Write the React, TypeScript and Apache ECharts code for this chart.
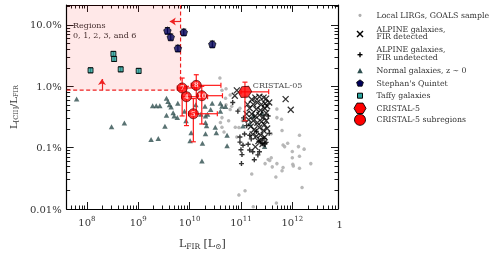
import React, { useEffect, useRef } from "react";
import * as echarts from "echarts";

// Axis ranges in log10 units (x: L_FIR in Lsun, y: ratio in percent)
const X_MIN = 7.606;
const X_MAX = 12.89;
const Y_MIN = -2;
const Y_MAX = 1.326;

const xMajorTicks = [8, 9, 10, 11, 12];
const xTickExponents = ["8", "9", "10", "11", "12"];
const yMajorTicks = [-2, -1, 0, 1];
const yTickLabels = ["0.01%", "0.1%", "1.0%", "10.0%"];

// [log L_FIR, log ratio(%)]
const goalsSample: [number, number][] = [
  [10.59, 0.135], [10.71, -0.038], [10.79, -0.142], [10.82, -0.326], [10.63, -0.063],
  [10.7, -0.195], [10.71, -0.299], [10.79, -0.378], [10.63, -0.51], [10.76, -0.562],
  [10.89, -0.668], [10.63, -0.668], [10.67, -0.746], [10.92, -0.825], [10.6, -0.589],
  [11.7, -0.369], [11.7, -0.51], [11.79, -0.535], [11.8, -0.72], [11.59, -0.772],
  [12.14, -0.798], [11.82, -0.956], [11.91, -0.929], [11.85, -0.983], [12.12, -0.983],
  [12.23, -1.024], [12.0, -1.061], [12.14, -1.14], [11.59, -1.165], [11.53, -1.192],
  [11.47, -1.26], [11.7, -1.26], [11.61, -1.313], [11.82, -1.323], [12.01, -1.271],
  [11.8, -1.376], [12.14, -1.334], [12.36, -1.26], [11.68, -1.48], [12.19, -1.649],
  [11.69, -1.901], [11.21, -1.428], [11.08, -1.701], [10.96, -1.77], [12.0, -1.165],
  [11.56, -1.21], [11.24, -1.964], [10.98, -0.357], [11.03, -0.562], [10.96, -0.672],
  [11.09, -0.169], [12.02, -1.298],
];

const alpineDetected: [number, number][] = [
  [10.92, -0.066], [10.88, -0.153], [11.87, -0.208], [11.97, -0.381],
  [11.21, -0.216], [11.28, -0.184], [11.36, -0.169], [11.44, -0.184], [11.49, -0.2],
  [11.24, -0.294], [11.32, -0.263], [11.4, -0.294], [11.47, -0.279], [11.17, -0.357],
  [11.3, -0.373], [11.38, -0.389], [11.46, -0.357], [11.51, -0.326], [11.21, -0.452],
  [11.28, -0.483], [11.36, -0.468], [11.44, -0.499], [11.49, -0.436], [11.24, -0.562],
  [11.32, -0.594], [11.4, -0.578], [11.46, -0.625], [11.19, -0.657], [11.26, -0.704],
  [11.36, -0.672], [11.44, -0.72], [11.51, -0.688], [11.23, -0.783], [11.3, -0.814],
  [11.38, -0.798], [11.46, -0.83], [11.34, -0.893], [11.42, -0.94], [11.28, -0.987],
  [11.49, -0.562], [11.15, -0.546], [11.13, -0.294], [11.55, -0.263], [11.11, -0.452],
];

const alpineUndetected: [number, number][] = [
  [10.94, -0.405], [10.84, -0.263], [10.98, -0.825], [11.07, -0.778], [10.98, -0.909],
  [11.04, -0.961], [11.14, -0.945], [11.17, -1.039], [11.23, -1.066], [11.36, -1.066],
  [11.33, -1.118], [11.26, -1.197], [11.01, -1.26], [11.42, -0.935], [11.47, -0.935],
  [11.39, -0.882], [11.2, -0.857], [11.0, -1.035], [11.45, -0.85], [11.11, -0.641],
  [11.05, -0.515], [11.3, -0.735], [11.55, -0.767], [11.53, -0.483], [11.17, -0.798],
  [11.02, -1.113], [11.49, -0.913], [11.35, -0.904],
];

const normalGalaxies: [number, number][] = [
  [7.8, -0.205], [8.48, -0.657], [8.73, -0.598], [9.25, -0.866], [9.39, -0.85],
  [9.28, -0.315], [9.35, -0.315], [9.42, -0.315], [9.55, -0.195], [9.58, -0.247],
  [9.64, -0.337], [9.77, -0.274], [9.55, -0.472], [9.68, -0.431], [9.7, -0.483],
  [9.76, -0.51], [9.52, -0.652], [10.03, -0.756], [10.01, -0.888], [10.25, -0.929],
  [10.24, -1.219], [10.33, -0.641], [10.3, -0.326], [10.35, -0.457], [10.12, -0.299],
  [10.52, -0.756], [10.73, -0.798], [10.73, -0.967], [10.41, -0.378], [10.44, -0.274],
  [10.6, -0.405], [10.63, -0.326], [10.31, -0.483], [11.46, -0.983], [11.07, -0.542],
  [11.04, -0.646], [11.41, -0.436], [11.17, -0.609], [11.24, -0.483], [9.93, -0.562],
  [10.31, -0.589], [10.22, -0.457], [10.6, -0.274], [10.7, -0.33], [10.5, -0.668],
  [10.31, -0.772], [9.61, -0.299], [9.9, -0.405],
];

// [logL, logR, yErrLow, yErrHigh]
const stephansQuintet: [number, number, number, number][] = [
  [9.568, 0.907, 0.05, 0.05], [9.633, 0.803, 0.05, 0.05], [9.887, 0.882, 0.05, 0.05],
  [9.772, 0.619, 0.05, 0.05], [10.442, 0.687, 0.05, 0.05],
];
const taffyGalaxies: [number, number, number, number][] = [
  [8.071, 0.261, 0.04, 0.04], [8.516, 0.529, 0.04, 0.04], [8.53, 0.446, 0.04, 0.04],
  [8.658, 0.277, 0.04, 0.04], [9.008, 0.252, 0.04, 0.04],
];

// subregions: label, logL, logR, xlo, xhi, ylo, yhi
const subregionLabels = ["7", "8", "4", "10", "5"];
const subregionLogL = [9.855, 10.13, 9.939, 10.237, 10.073];
const subregionLogR = [-0.027, 0.016, -0.169, -0.153, -0.447];
const subregionXLo = [9.76, 10.03, 9.85, 10.15, 9.98];
const subregionXHi = [10.1, 10.61, 10.35, 10.64, 10.54];
const subregionYLo = [-0.483, -0.45, -0.64, -0.614, -0.904];
const subregionYHi = [0.135, 0.189, 0.0, 0.0, -0.2];

// CRISTAL-5 total: logL, logR, xlo, xhi, ylo, yhi
const cristal5 = [11.078, -0.09, 11.0, 11.54, -0.562, 0.068];

// Regions 0,1,2,3,6 limits
const regionsLimitLogL = 9.824;
const regionsLimitLogR = -0.063;
const arrowLeft = { y: 1.055, from: 9.824, to: 9.614 };
const arrowUp = { x: 8.294, from: -0.063, to: 0.12 };

const FONT = "DejaVu Serif";

function minorTicks(lo: number, hi: number): number[] {
  const out: number[] = [];
  for (let d = Math.floor(lo) - 1; d <= Math.ceil(hi); d++) {
    for (let k = 2; k <= 9; k++) {
      const v = d + Math.log10(k);
      if (v > lo && v < hi) out.push(v);
    }
  }
  return out;
}

const PENTAGON = "path://M0,-1L0.951,-0.309L0.588,0.809L-0.588,0.809L-0.951,-0.309Z";
const HEXAGON = "path://M0,-1L0.866,-0.5L0.866,0.5L0,1L-0.866,0.5L-0.866,-0.5Z";
const XMARK = "path://M-1,-1L1,1M1,-1L-1,1";
const PLUS = "path://M-1,0L1,0M0,-1L0,1";

function errorSeries(
  data: number[][],
  color: string,
  z: number,
  width = 1.2
) {
  return {
    type: "custom",
    z,
    silent: true,
    encode: { x: [0, 2, 3], y: [1, 4, 5] },
    data,
    renderItem: (_p: any, api: any) => {
      const x = api.value(0), y = api.value(1);
      const xlo = api.value(2), xhi = api.value(3);
      const ylo = api.value(4), yhi = api.value(5);
      const style = { stroke: color, lineWidth: width };
      const cap = 2.5;
      const children: any[] = [];
      if (xlo !== xhi) {
        const l = api.coord([xlo, y]);
        const r = api.coord([xhi, y]);
        children.push({ type: "line", shape: { x1: l[0], y1: l[1], x2: r[0], y2: r[1] }, style });
        children.push({ type: "line", shape: { x1: l[0], y1: l[1] - cap, x2: l[0], y2: l[1] + cap }, style });
        children.push({ type: "line", shape: { x1: r[0], y1: r[1] - cap, x2: r[0], y2: r[1] + cap }, style });
      }
      if (ylo !== yhi) {
        const b = api.coord([x, ylo]);
        const t = api.coord([x, yhi]);
        children.push({ type: "line", shape: { x1: b[0], y1: b[1], x2: t[0], y2: t[1] }, style });
        children.push({ type: "line", shape: { x1: b[0] - cap, y1: b[1], x2: b[0] + cap, y2: b[1] }, style });
        children.push({ type: "line", shape: { x1: t[0] - cap, y1: t[1], x2: t[0] + cap, y2: t[1] }, style });
      }
      return { type: "group", children };
    },
  };
}

export default function App() {
  const ref = useRef<HTMLDivElement>(null);
  useEffect(() => {
    if (!ref.current) return;
    const chart = echarts.init(ref.current, undefined, { renderer: "svg" });

    const xMinor = minorTicks(X_MIN, X_MAX);
    const yMinor = minorTicks(Y_MIN, Y_MAX);
    const lineStyle = { color: "#000", width: 1.2 };

    const mkX = (position: string, major: boolean, showLine: boolean, showLabel: boolean, extra: any = {}) => ({
      type: "value",
      min: X_MIN,
      max: X_MAX,
      position,
      axisLine: { show: showLine, onZero: false, lineStyle },
      axisTick: {
        show: true,
        inside: true,
        length: major ? 7 : 3.5,
        customValues: major ? xMajorTicks : xMinor,
        lineStyle: { color: "#000", width: 0.9 },
      },
      axisLabel: showLabel
        ? {
            show: true,
            customValues: xMajorTicks,
            margin: 6,
            formatter: (v: number) => {
              const i = xMajorTicks.findIndex((t) => Math.abs(t - v) < 1e-6);
              return `{b|10}{s|${xTickExponents[i]}}`;
            },
            rich: {
              b: { fontFamily: FONT, fontSize: 10, color: "#333" },
              s: { fontFamily: FONT, fontSize: 7, color: "#333", padding: [0, 0, 8, 0] },
            },
          }
        : { show: false },
      splitLine: { show: false },
      ...extra,
    });
    const mkY = (position: string, major: boolean, showLine: boolean, showLabel: boolean, extra: any = {}) => ({
      type: "value",
      min: Y_MIN,
      max: Y_MAX,
      position,
      axisLine: { show: showLine, onZero: false, lineStyle },
      axisTick: {
        show: true,
        inside: true,
        length: major ? 7 : 3.5,
        customValues: major ? yMajorTicks : yMinor,
        lineStyle: { color: "#000", width: 0.9 },
      },
      axisLabel: showLabel
        ? {
            show: true,
            customValues: yMajorTicks,
            margin: 5,
            fontFamily: FONT,
            fontSize: 10,
            color: "#333",
            formatter: (v: number) => {
              const i = yMajorTicks.findIndex((t) => Math.abs(t - v) < 1e-6);
              return yTickLabels[i];
            },
          }
        : { show: false },
      splitLine: { show: false },
      ...extra,
    });

    const subData = subregionLabels.map((lab, i) => ({
      value: [subregionLogL[i], subregionLogR[i]],
      name: lab,
    }));
    const subErr = subregionLabels.map((_, i) => [
      subregionLogL[i], subregionLogR[i], subregionXLo[i], subregionXHi[i], subregionYLo[i], subregionYHi[i],
    ]);

    const option: any = {
      animation: false,
      grid: { left: 62, right: 161, top: 5, bottom: 39, containLabel: false },
      xAxis: [
        mkX("bottom", true, true, true, {
          name: "{m|L}{s|FIR}{m| [L}{s|⊙}{m|]}",
          nameLocation: "middle",
          nameGap: 27,
          nameTextStyle: {
            rich: {
              m: { fontFamily: FONT, fontSize: 11, color: "#333" },
              s: { fontFamily: FONT, fontSize: 7.5, color: "#333", padding: [6, 0, 0, 0] },
            },
          },
        }),
        mkX("bottom", false, false, false),
        mkX("top", true, true, false),
        mkX("top", false, false, false),
      ],
      yAxis: [
        mkY("left", true, true, true, {
          name: "{m|L}{s|[CII]}{m|/L}{s|FIR}",
          nameLocation: "middle",
          nameRotate: 90,
          nameGap: 40,
          nameTextStyle: {
            rich: {
              m: { fontFamily: FONT, fontSize: 10, color: "#333" },
              s: { fontFamily: FONT, fontSize: 6.5, color: "#333", padding: [5, 0, 0, 0] },
            },
          },
        }),
        mkY("left", false, false, false),
        mkY("right", true, true, false),
        mkY("right", false, false, false),
      ],
      series: [
        {
          name: "regions",
          type: "line",
          z: 1,
          silent: true,
          symbol: "none",
          data: [
            [X_MIN, regionsLimitLogR],
            [regionsLimitLogL, regionsLimitLogR],
            [regionsLimitLogL, Y_MAX],
          ],
          lineStyle: { color: "#ee2222", width: 1.2, type: [4, 2.5] },
          markArea: {
            silent: true,
            itemStyle: { color: "rgba(255,0,0,0.09)" },
            data: [[{ coord: [X_MIN, Y_MAX] }, { coord: [regionsLimitLogL, regionsLimitLogR] }]],
          },
          markLine: {
            silent: true,
            symbol: ["none", "arrow"],
            symbolSize: [6, 6],
            label: { show: false },
            lineStyle: { color: "#ee2222", width: 1.2, type: "solid" },
            data: [
              [{ coord: [arrowLeft.from, arrowLeft.y] }, { coord: [arrowLeft.to, arrowLeft.y] }],
              [{ coord: [arrowUp.x, arrowUp.from] }, { coord: [arrowUp.x, arrowUp.to] }],
            ],
          },
        },
        {
          name: "Local LIRGs, GOALS sample",
          type: "scatter",
          z: 2,
          symbol: "circle",
          symbolSize: 3.5,
          itemStyle: { color: "#b0b0b0", opacity: 0.9 },
          data: goalsSample,
        },
        {
          name: "Normal galaxies",
          type: "scatter",
          z: 3,
          symbol: "triangle",
          symbolSize: [5.5, 5],
          itemStyle: { color: "#2f4f4f" },
          data: normalGalaxies,
        },
        {
          name: "ALPINE undetected",
          type: "scatter",
          z: 4,
          symbol: PLUS,
          symbolSize: 5,
          itemStyle: { color: "transparent", borderColor: "#000", borderWidth: 1.4 },
          data: alpineUndetected,
        },
        {
          name: "ALPINE detected",
          type: "scatter",
          z: 4,
          symbol: XMARK,
          symbolSize: 6,
          itemStyle: { color: "transparent", borderColor: "#000", borderWidth: 1.3 },
          data: alpineDetected,
        },
        errorSeries(stephansQuintet.map((d) => [d[0], d[1], d[0], d[0], d[1] - d[2], d[1] + d[3]]), "#000", 5, 1),
        {
          name: "Stephan's Quintet",
          type: "scatter",
          z: 6,
          symbol: PENTAGON,
          symbolSize: 7.5,
          itemStyle: { color: "#00005a", borderColor: "#000", borderWidth: 0.8 },
          data: stephansQuintet.map((d) => [d[0], d[1]]),
        },
        errorSeries(taffyGalaxies.map((d) => [d[0], d[1], d[0], d[0], d[1] - d[2], d[1] + d[3]]), "#000", 5, 1),
        {
          name: "Taffy galaxies",
          type: "scatter",
          z: 6,
          symbol: "rect",
          symbolSize: 5,
          itemStyle: { color: "#2aa6a0", borderColor: "#000", borderWidth: 1 },
          data: taffyGalaxies.map((d) => [d[0], d[1]]),
        },
        errorSeries(subErr, "#ff1a1a", 7, 1.2),
        errorSeries([cristal5], "#ff1a1a", 7, 1.2),
        {
          name: "CRISTAL-5 subregions",
          type: "scatter",
          z: 8,
          symbol: "circle",
          symbolSize: 10,
          itemStyle: { color: "#ff0000", borderColor: "#5a0000", borderWidth: 0.9 },
          label: {
            show: true,
            position: "inside",
            formatter: (p: any) => p.name,
            color: "#fff",
            fontFamily: FONT,
            fontSize: 6.5,
            fontWeight: "bold",
          },
          data: subData,
        },
        {
          name: "CRISTAL-5",
          type: "scatter",
          z: 8,
          symbol: HEXAGON,
          symbolSize: 12,
          symbolRotate: 30,
          itemStyle: { color: "#ff0000", borderColor: "#5a0000", borderWidth: 0.9 },
          label: {
            show: true,
            position: "right",
            offset: [-6, -6],
            formatter: "CRISTAL-05",
            color: "#222",
            fontFamily: FONT,
            fontSize: 8,
          },
          data: [[cristal5[0], cristal5[1]]],
        },
      ],
      graphic: [
        {
          type: "text",
          left: 73,
          top: 20,
          style: {
            text: "Regions\n0, 1, 2, 3, and 6",
            fontFamily: FONT,
            fontSize: 8,
            lineHeight: 10,
            fill: "#333",
          },
        },
        {
          type: "text",
          left: 336.5,
          top: 219,
          style: { text: "1", fontFamily: FONT, fontSize: 10, fill: "#333" },
        },
        // legend
        { type: "circle", shape: { cx: 360, cy: 15.3, r: 1.6 }, style: { fill: "#b0b0b0" } },
        { type: "line", shape: { x1: 357, y1: 31, x2: 363, y2: 37 }, style: { stroke: "#000", lineWidth: 1.4 } },
        { type: "line", shape: { x1: 363, y1: 31, x2: 357, y2: 37 }, style: { stroke: "#000", lineWidth: 1.4 } },
        { type: "line", shape: { x1: 357.5, y1: 54.7, x2: 362.5, y2: 54.7 }, style: { stroke: "#000", lineWidth: 1.4 } },
        { type: "line", shape: { x1: 360, y1: 52.2, x2: 360, y2: 57.2 }, style: { stroke: "#000", lineWidth: 1.4 } },
        { type: "polygon", shape: { points: [[360, 68], [362.8, 73.2], [357.2, 73.2]] }, style: { fill: "#2f4f4f" } },
        {
          type: "polygon",
          shape: { points: [[360, 79.8], [363.4, 82.3], [362.1, 86.2], [357.9, 86.2], [356.6, 82.3]] },
          style: { fill: "#00005a", stroke: "#000", lineWidth: 0.8 },
        },
        { type: "rect", shape: { x: 357.5, y: 93.2, width: 5, height: 5 }, style: { fill: "#2aa6a0", stroke: "#000", lineWidth: 1 } },
        {
          type: "polygon",
          shape: { points: [[354, 108.3], [357, 103.1], [363, 103.1], [366, 108.3], [363, 113.5], [357, 113.5]] },
          style: { fill: "#ff0000", stroke: "#000", lineWidth: 0.9 },
        },
        { type: "circle", shape: { cx: 360, cy: 119.8, r: 5.5 }, style: { fill: "#ff0000", stroke: "#000", lineWidth: 0.9 } },
        ...[
          { t: "Local LIRGs, GOALS sample", y: 15.3 },
          { t: "ALPINE galaxies,", y: 29.3 },
          { t: "FIR detected", y: 36.9 },
          { t: "ALPINE galaxies,", y: 49.7 },
          { t: "FIR undetected", y: 57.3 },
          { t: "Normal galaxies, z ∼ 0", y: 70.7 },
          { t: "Stephan's Quintet", y: 83.3 },
          { t: "Taffy galaxies", y: 95.7 },
          { t: "CRISTAL-5", y: 108.3 },
          { t: "CRISTAL-5 subregions", y: 119.5 },
        ].map((e) => ({
          type: "text",
          x: 376.5,
          y: e.y,
          style: {
            text: e.t,
            fontFamily: FONT,
            fontSize: 7.8,
            fill: "#333",
            verticalAlign: "middle",
            align: "left",
          },
        })),
      ],
    };

    chart.setOption(option);
    return () => chart.dispose();
  }, []);

  return (
    <div
      ref={ref}
      style={{ position: "fixed", left: 0, top: 0, width: 499, height: 255 }}
    />
  );
}
